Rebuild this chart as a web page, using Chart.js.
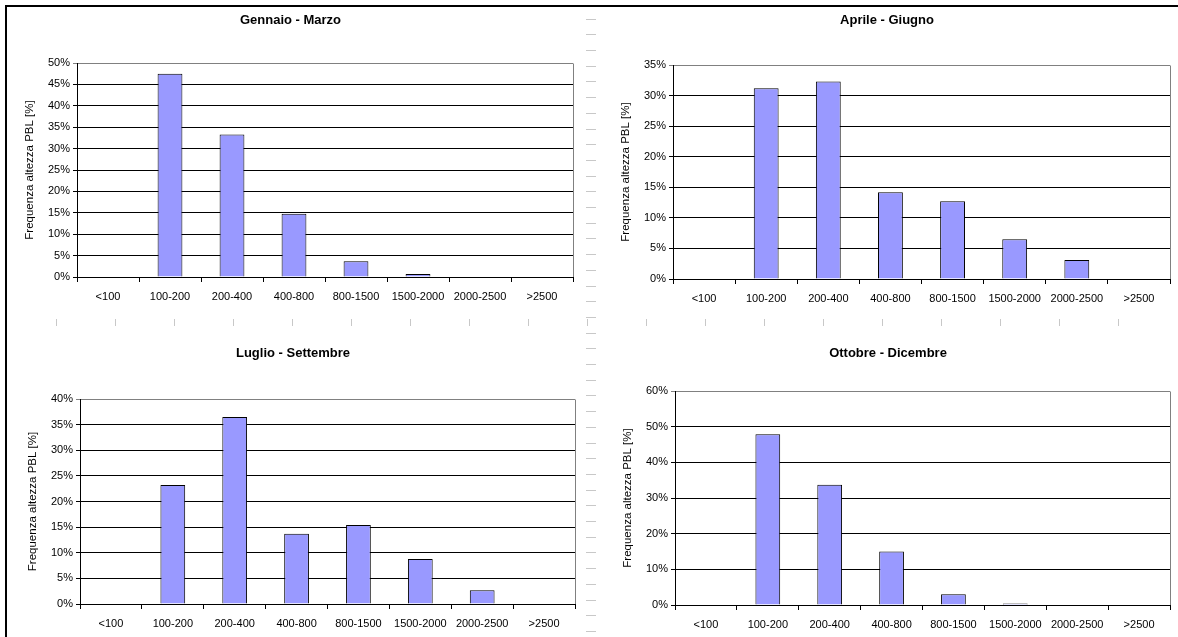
<!DOCTYPE html>
<html>
<head>
<meta charset="utf-8">
<script src="https://cdn.jsdelivr.net/npm/chart.js@4/dist/chart.umd.min.js"></script>
<style>
  body { margin: 0; background: #fff; width: 1178px; height: 637px; overflow: hidden; position: relative; }
  .frame { position: absolute; left: 5px; top: 5px; right: -10px; bottom: -10px; border-left: 2px solid #000; border-top: 2px solid #000; }
  .colcells { position: absolute; left: 586px; top: 8px; width: 10px; height: 629px;
    background: repeating-linear-gradient(to bottom, transparent 0, transparent 14.7px, #c8c8c8 14.7px, #c8c8c8 15.7px);
    background-position: 0 -4px; }
  .rowcells { position: absolute; left: 0; top: 319px; width: 1178px; height: 7px;
    background: repeating-linear-gradient(to right, transparent 0, transparent 58px, #c8c8c8 58px, #c8c8c8 59px);
    background-position: -2px 0; }
  .box { position: absolute; }
</style>
</head>
<body>
<div class="frame"></div>
<div class="colcells"></div>
<div class="rowcells"></div>
<div class="box" style="left:8px;top:8px;width:569px;height:305px"><canvas id="c1"></canvas></div>
<div class="box" style="left:604px;top:8px;width:570px;height:307px"><canvas id="c2"></canvas></div>
<div class="box" style="left:11px;top:332px;width:568px;height:305px"><canvas id="c3"></canvas></div>
<div class="box" style="left:606px;top:332px;width:568px;height:305px"><canvas id="c4"></canvas></div>
<script>
// classi di altezza PBL (m)
const classi = ['<100', '100-200', '200-400', '400-800', '800-1500', '1500-2000', '2000-2500', '>2500'];

// frequenza [%] per trimestre
const gennaioMarzo = [0, 47.5, 33.3, 14.8, 3.7, 0.7, 0, 0];
const aprileGiugno = [0, 31.2, 32.3, 14.2, 12.7, 6.5, 3.1, 0];
const luglioSettembre = [0, 23.2, 36.5, 13.7, 15.4, 8.8, 2.7, 0];
const ottobreDicembre = [0, 47.9, 33.7, 15.0, 3.0, 0.4, 0, 0];

const titoli = ['Gennaio - Marzo', 'Aprile - Giugno', 'Luglio - Settembre', 'Ottobre - Dicembre'];
const yMax = [50, 35, 40, 60];
const yStep = [5, 5, 5, 10];

const FONT = '"Liberation Sans", Arial, sans-serif';

// bordo grigio a destra dell'area del grafico
const plotBorder = {
  id: 'plotBorder',
  afterDraw(chart) {
    const a = chart.chartArea, ctx = chart.ctx;
    ctx.save();
    ctx.strokeStyle = '#808080';
    ctx.lineWidth = 1;
    ctx.beginPath();
    ctx.moveTo(Math.round(a.right) + 0.5, Math.round(a.top) + 0.5);
    ctx.lineTo(Math.round(a.right) + 0.5, Math.round(a.bottom));
    ctx.stroke();
    ctx.restore();
  }
};

function makeChart(id, titolo, valori, max, step, titlePad, xh) {
  const ctx = document.getElementById(id).getContext('2d');
  return new Chart(ctx, {
    type: 'bar',
    data: {
      labels: classi,
      datasets: [{
        data: valori,
        backgroundColor: '#9999ff',
        borderColor: '#000',
        borderWidth: 1,
        barPercentage: 0.4,
        categoryPercentage: 1
      }]
    },
    options: {
      responsive: true,
      maintainAspectRatio: false,
      animation: false,
      layout: { padding: { left: 0, right: 4, top: 0, bottom: 0 } },
      plugins: {
        legend: { display: false },
        tooltip: { enabled: false },
        title: {
          display: true,
          text: titolo,
          color: '#000',
          font: { family: FONT, size: 13, weight: 'bold' },
          padding: titlePad
        }
      },
      scales: {
        x: {
          offset: true,
          afterFit(s) { s.height = xh; },
          grid: { offset: true, drawOnChartArea: false, drawTicks: true, tickLength: 5, color: '#000' },
          border: { color: '#000' },
          ticks: { color: '#000', font: { family: FONT, size: 11 }, padding: 8, maxRotation: 0, autoSkip: false }
        },
        y: {
          min: 0,
          max: max,
          afterFit(s) { s.width = 69; },
          grid: {
            color: c => (c.tick && c.tick.value === max) ? '#808080' : '#000',
            tickLength: 4
          },
          border: { color: '#000' },
          ticks: {
            stepSize: step,
            color: '#000',
            padding: 3,
            font: { family: FONT, size: 11 },
            callback: v => v + '%'
          },
          title: {
            display: true,
            text: 'Frequenza altezza PBL [%]',
            color: '#000',
            font: { family: FONT, size: 11.5 },
            padding: { top: 15, bottom: 0 }
          }
        }
      }
    },
    plugins: [plotBorder]
  });
}

makeChart('c1', titoli[0], gennaioMarzo, yMax[0], yStep[0], { top: 4.2, bottom: 35.2 }, 36);
makeChart('c2', titoli[1], aprileGiugno, yMax[1], yStep[1], { top: 4.2, bottom: 37.2 }, 36);
makeChart('c3', titoli[2], luglioSettembre, yMax[2], yStep[2], { top: 13.2, bottom: 38.2 }, 33);
makeChart('c4', titoli[3], ottobreDicembre, yMax[3], yStep[3], { top: 13.2, bottom: 30.2 }, 32);
</script>
</body>
</html>
